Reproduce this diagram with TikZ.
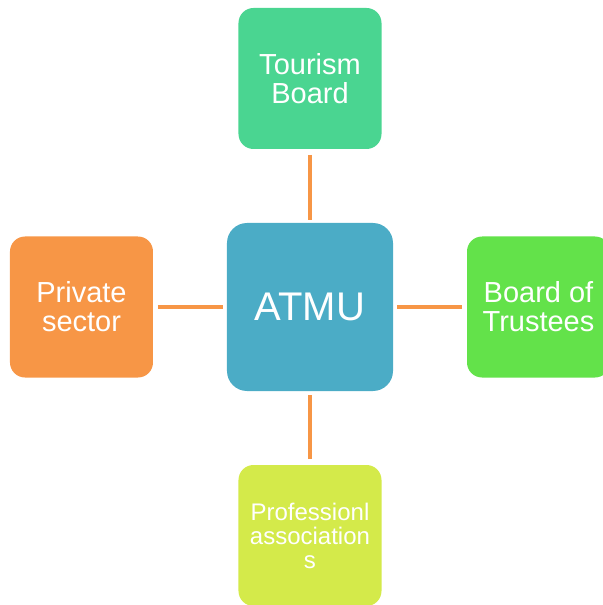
\documentclass[tikz,border=0pt]{standalone}
\usepackage{fontspec}
\setmainfont{Liberation Sans}
\usetikzlibrary{positioning}
\definecolor{atmublue}{HTML}{4BACC6}
\definecolor{tourgreen}{HTML}{4AD591}
\definecolor{trustgreen}{HTML}{63E24A}
\definecolor{assolime}{HTML}{D4EA4A}
\definecolor{privorange}{HTML}{F79646}

\begin{document}
\begin{tikzpicture}[
    hub/.style={rounded corners=10pt, fill=atmublue, text=white,
                minimum width=83pt, minimum height=84pt, outer sep=0pt,
                font=\fontsize{20}{22}\selectfont},
    party/.style={rounded corners=7.5pt, text=white, inner sep=0pt,
                  minimum width=71.5pt, minimum height=70.5pt, outer sep=0pt,
                  align=center, font=\fontsize{14.5}{14.5}\selectfont},
    link/.style={draw=privorange, line width=2pt},
    node distance=37pt
  ]
  \useasboundingbox (-155pt,-149pt) rectangle (146.5pt,153.5pt);
  \node[hub] (atmu) at (0,0) {ATMU};
  \node[party, fill=tourgreen, above=of atmu] (tourism) {Tourism\\Board};
  \node[party, fill=privorange, left=of atmu] (private) {Private\\sector};
  \node[party, fill=trustgreen, right=of atmu] (trustees) {Board of\\Trustees};
  \node[party, fill=assolime, below=of atmu,
        font=\fontsize{12}{12}\selectfont] (assoc) {Professionl\\association\\s};
  % connectors
  \draw[link, shorten <=3pt, shorten >=1.5pt] (tourism) -- (atmu);
  \draw[link, shorten <=2.5pt, shorten >=2pt] (private) -- (atmu);
  \draw[link, shorten <=2.5pt, shorten >=2pt] (trustees) -- (atmu);
  \draw[link, shorten <=3pt, shorten >=2pt] (assoc) -- (atmu);
\end{tikzpicture}
\end{document}
